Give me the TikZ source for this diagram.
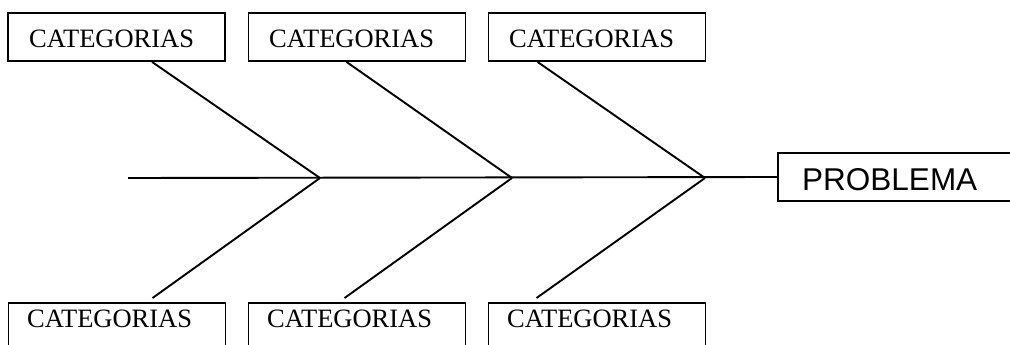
\documentclass[tikz,border=0pt]{standalone}
\usepackage{fontspec}
\setmainfont{Liberation Serif}
\newfontfamily\arialfont{Liberation Sans}
\begin{document}
\begin{tikzpicture}[x=1pt,y=-1pt,
  catbox/.style={draw, line width=1.9pt, minimum width=217pt, minimum height=48pt, inner sep=0pt},
  cattext/.style={font=\fontsize{26.5}{30}\selectfont, inner sep=0pt, anchor=west},
  probbox/.style={draw, line width=1.9pt, minimum width=240pt, minimum height=48pt, inner sep=0pt,
    anchor=west},
  bone/.style={line width=1.9pt}]
\useasboundingbox (0,0) rectangle (1010,345);
\clip (0,0) rectangle (1010,345);
% top boxes
\node[catbox] (t1) at (116.5,37) {};
\node[catbox] (t2) at (357,37) {};
\node[catbox] (t3) at (597,37) {};
\node[cattext] (tl1) at (29,39) {CATEGORIAS};
\node[cattext] (tl2) at (269,39) {CATEGORIAS};
\node[cattext] (tl3) at (509,39) {CATEGORIAS};
% bottom boxes (cut by the lower edge)
\node[catbox, anchor=north] (b1) at (117,302) {};
\node[catbox, anchor=north] (b2) at (357,302) {};
\node[catbox, anchor=north] (b3) at (597,302) {};
\node[cattext] (bl1) at (27,318.5) {CATEGORIAS};
\node[cattext] (bl2) at (267,318.5) {CATEGORIAS};
\node[cattext] (bl3) at (507,318.5) {CATEGORIAS};
% problem box
\node[probbox] (prob) at (777,177) {};
\node[font=\arialfont\fontsize{31.5}{36}\selectfont, inner sep=0pt, anchor=west] (probt) at (802,179.5) {PROBLEMA};
% spine and junctions
\coordinate (tail) at (128,178);
\coordinate (j1) at (320,178);
\coordinate (j2) at (512,178);
\coordinate (j3) at (705,178);
\draw[bone] (tail) -- (prob.west);
% top bones
\draw[bone] ([xshift=145pt]t1.south west) -- (j1);
\draw[bone] ([xshift=99pt]t2.south west) -- (j2);
\draw[bone] ([xshift=50pt]t3.south west) -- (j3);
% bottom bones
\draw[bone] ([xshift=145pt,yshift=4pt]b1.north west) -- (j1);
\draw[bone] ([xshift=97pt,yshift=4pt]b2.north west) -- (j2);
\draw[bone] ([xshift=49pt,yshift=4pt]b3.north west) -- (j3);
\end{tikzpicture}
\end{document}
